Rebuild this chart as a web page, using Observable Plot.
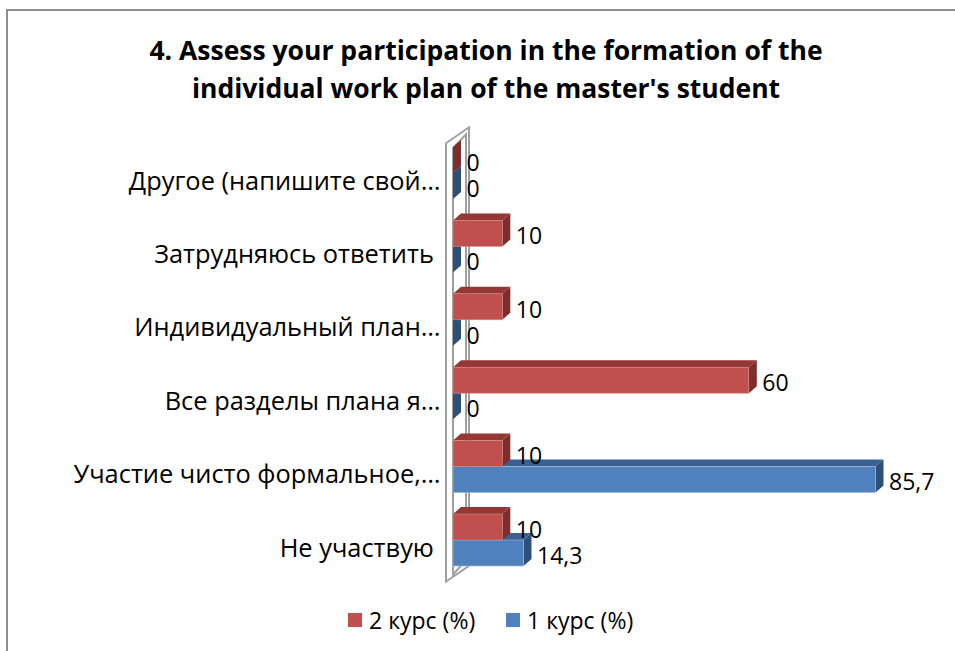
<!DOCTYPE html>
<html><head><meta charset="utf-8">
<script src="https://cdn.jsdelivr.net/npm/d3@7"></script>
<script src="https://cdn.jsdelivr.net/npm/@observablehq/plot@0.6"></script>
<style>
body{margin:0;background:#fff;}
#wrap{position:relative;width:955px;height:651px;overflow:hidden;font-family:"Open Sans",sans-serif;color:#000;}
#frame{position:absolute;left:6px;top:9px;width:980px;height:680px;border-left:2px solid #8f8f8f;border-top:2px solid #8f8f8f;}
#title{position:absolute;left:0;top:31px;width:972px;text-align:center;font-weight:bold;font-size:26.5px;line-height:38px;}
#chart{position:absolute;left:0;top:110px;}
#chart svg text{white-space:pre;}
#chart svg g[aria-label^="y-axis"], #chart svg g[aria-label^="y-axis"] text{font-size:25.4px;}
.lg{position:absolute;top:604px;font-size:23px;line-height:32px;white-space:nowrap;}
.sw{position:absolute;top:613px;width:14px;height:14px;}
</style></head>
<body>
<div id="wrap">
  <div id="frame"></div>
  <div id="title">4. Assess your participation in the formation of the<br>individual work plan of the master's student</div>
  <div id="chart"></div>
  <div id="legend"></div>
</div>
<script>
// categories listed top to bottom as in the chart
const categories = ["Другое (напишите свой…", "Затрудняюсь ответить ", "Индивидуальный план…", "Все разделы плана я…", "Участие чисто формальное,…", "Не участвую "];
const course2 = [0, 10, 10, 60, 10, 10];      // 2 курс (%)
const course1 = [0, 0, 0, 0, 85.7, 14.3];     // 1 курс (%)
const seriesNames = ["2 курс (%)", "1 курс (%)"];
const xTicks = [0, 20, 40, 60, 80, 100];

const n = categories.length;
const PX = 73.4;          // pixels per category step
const BAR = 26 / PX;      // bar thickness in y units
const SHIFT = 8 / PX;     // pair is shifted up from label
const DX = 8, DY = 7;     // 3D depth in px
const fmt = v => String(v).replace(".", ",");

const rows = [];
categories.forEach((c, k) => {
  const i = n - 1 - k;
  const pc = i + SHIFT;
  rows.push({cat: c, s: seriesNames[0], v: course2[k], yb: pc, yt: pc + BAR, yc: pc + BAR / 2});
  rows.push({cat: c, s: seriesNames[1], v: course1[k], yb: pc - BAR, yt: pc, yc: pc - BAR / 2});
});
const red = rows.filter(d => d.s === seriesNames[0]);
const blue = rows.filter(d => d.s === seriesNames[1]);

const colors = {
  [seriesNames[0]]: {front: "#c0504d", top: "#953735", side: "#7d2d2b", edge: "#d88a88"},
  [seriesNames[1]]: {front: "#4f81bd", top: "#3b6191", side: "#2e4f78", edge: "#a3bddd"}
};

function depth(data, col) {
  return (index, scales) => {
    const {x, y} = scales;
    const g = d3.create("svg:g");
    data.forEach(d => {
      const x1 = x(0), x2 = x(d.v), yt = y(d.yt), yb = y(d.yb);
      if (d.v > 0) g.append("path")
        .attr("d", `M${x1},${yt}L${x2},${yt}L${x2 + DX},${yt - DY}L${x1 + DX},${yt - DY}Z`)
        .attr("fill", col.top);
      g.append("path")
        .attr("d", `M${x2},${yt}L${x2 + DX},${yt - DY}L${x2 + DX},${yb - DY}L${x2},${yb}Z`)
        .attr("fill", col.side);
    });
    return g.node();
  };
}

function wall(index, scales) {
  const {x, y} = scales;
  const x0 = x(0);
  const top = y(n - 0.5) - 17, bot = y(-0.5) - 19;
  const g = d3.create("svg:g").attr("fill", "none").attr("stroke", "#a0a0a0").attr("stroke-width", 2);
  g.append("path").attr("d", `M${x0 - 7},${top + 16}L${x0 + 16},${top}L${x0 + 16},${bot}L${x0 - 7},${bot + 16}Z`);
  g.append("path").attr("d", `M${x0},${top + 21}L${x0 + 13},${top + 7}L${x0 + 13},${bot - 6}L${x0},${bot + 9}Z`);
  return g.node();
}

const chart = Plot.plot({
  width: 955,
  height: 500,
  marginLeft: 453,
  marginRight: 9,
  marginTop: 34.3,
  marginBottom: 25.3,
  style: {fontFamily: "Open Sans, sans-serif", fontSize: "25px", color: "#000", background: "transparent", overflow: "visible"},
  x: {domain: [0, 100], axis: null, ticks: xTicks},
  y: {domain: [-0.5, n - 0.5], ticks: d3.range(n), tickSize: 0, tickPadding: 13, tickFormat: i => categories[n - 1 - i], label: null},
  marks: [
    wall,
    depth(blue, colors[seriesNames[1]]),
    Plot.rect(blue, {x1: 0, x2: "v", y1: "yb", y2: "yt", fill: colors[seriesNames[1]].front, stroke: colors[seriesNames[1]].edge, strokeWidth: 0.6}),
    depth(red, colors[seriesNames[0]]),
    Plot.rect(red, {x1: 0, x2: "v", y1: "yb", y2: "yt", fill: colors[seriesNames[0]].front, stroke: colors[seriesNames[0]].edge, strokeWidth: 0.6}),
    Plot.text(rows, {x: "v", y: "yc", text: d => fmt(d.v), dx: 13, dy: 3, textAnchor: "start", fontSize: 23, fill: "#000"})
  ]
});
document.getElementById("chart").appendChild(chart);

// legend
const lg = document.getElementById("legend");
const legendPos = [{sw: 348, tx: 369}, {sw: 506, tx: 527}];
seriesNames.forEach((s, j) => {
  const sw = document.createElement("div");
  sw.className = "sw"; sw.style.left = legendPos[j].sw + "px"; sw.style.background = colors[s].front;
  const t = document.createElement("div");
  t.className = "lg"; t.style.left = legendPos[j].tx + "px"; t.textContent = s;
  lg.appendChild(sw); lg.appendChild(t);
});
</script>
</body></html>
